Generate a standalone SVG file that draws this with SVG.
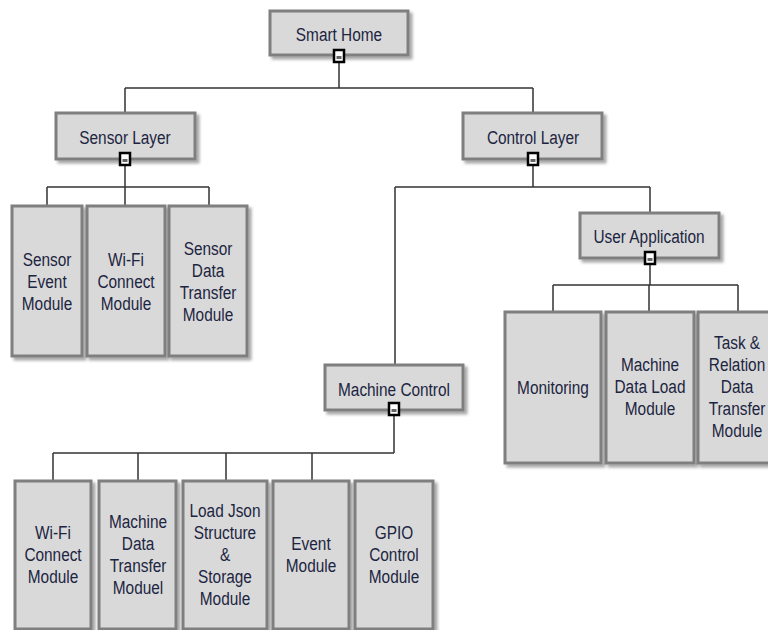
<svg xmlns="http://www.w3.org/2000/svg" width="768" height="630" viewBox="0 0 768 630">
<defs>
<filter id="sh" x="-20%" y="-20%" width="140%" height="140%">
<feGaussianBlur in="SourceAlpha" stdDeviation="1.5"/>
<feOffset dx="3" dy="3" result="o"/>
<feComponentTransfer><feFuncA type="linear" slope="0.35"/></feComponentTransfer>
<feMerge><feMergeNode/><feMergeNode in="SourceGraphic"/></feMerge>
</filter>
</defs>
<style>
.b{fill:#d9d9d9;stroke:#7f7f7f;stroke-width:3;filter:url(#sh)}
.t{font-family:"Liberation Sans",Arial,sans-serif;font-size:19px;fill:#1c2541;text-anchor:middle;transform-box:fill-box;transform-origin:center;transform:scaleX(0.81)}
.c{fill:none;stroke:#333;stroke-width:1.5}
.i{fill:#fff;stroke:#000;stroke-width:2.5}
.d{fill:#666}
</style>
<rect width="768" height="630" fill="#fff"/>
<g id="connectors">
<path class="c" d="M339 60V88M125 88H533M125 88V113M533 88V113"/>
<path class="c" d="M125 163V187M47 187H209M47 187V206M125 187V206M209 187V206"/>
<path class="c" d="M533 163V187M395 187H650M650 187V213M395 187V365"/>
<path class="c" d="M650 262V285M553 285H738M553 285V312M649 285V312M738 285V312"/>
<path class="c" d="M394 414V453M53 453H394M53 453V481M138 453V481M226 453V481M312 453V481"/>
</g>
<g id="smart-home"><rect class="b" x="270" y="11" width="138" height="44"/><text class="t" x="339" y="41">Smart Home</text><rect class="i" x="334" y="50" width="10" height="12"/><rect class="d" x="336.5" y="56" width="5" height="3"/></g>
<g id="sensor-layer"><rect class="b" x="56" y="113" width="139" height="46"/><text class="t" x="125" y="144">Sensor Layer</text><rect class="i" x="120" y="153" width="10" height="12"/><rect class="d" x="122.5" y="159" width="5" height="3"/></g>
<g id="control-layer"><rect class="b" x="463" y="113" width="139" height="46"/><text class="t" x="533" y="144">Control Layer</text><rect class="i" x="528" y="153" width="10" height="12"/><rect class="d" x="530.5" y="159" width="5" height="3"/></g>
<g id="sensor-event"><rect class="b" x="12" y="206" width="70" height="150"/><text class="t" x="47" y="266">Sensor</text><text class="t" x="47" y="288">Event</text><text class="t" x="47" y="310">Module</text></g>
<g id="sensor-wifi"><rect class="b" x="87" y="206" width="78" height="150"/><text class="t" x="126" y="266">Wi-Fi</text><text class="t" x="126" y="288">Connect</text><text class="t" x="126" y="310">Module</text></g>
<g id="sensor-data"><rect class="b" x="169" y="206" width="78" height="150"/><text class="t" x="208" y="255">Sensor</text><text class="t" x="208" y="277">Data</text><text class="t" x="208" y="299">Transfer</text><text class="t" x="208" y="321">Module</text></g>
<g id="user-application"><rect class="b" x="580" y="213" width="139" height="45"/><text class="t" x="649" y="243">User Application</text><rect class="i" x="645" y="252" width="10" height="12"/><rect class="d" x="647.5" y="258" width="5" height="3"/></g>
<g id="monitoring"><rect class="b" x="505" y="312" width="96" height="151"/><text class="t" x="553" y="394">Monitoring</text></g>
<g id="machine-data-load"><rect class="b" x="606" y="312" width="88" height="151"/><text class="t" x="650" y="371">Machine</text><text class="t" x="650" y="393">Data Load</text><text class="t" x="650" y="415">Module</text></g>
<g id="task-relation"><rect class="b" x="698" y="312" width="80" height="151"/><text class="t" x="737" y="349">Task &amp;</text><text class="t" x="737" y="371">Relation</text><text class="t" x="737" y="393">Data</text><text class="t" x="737" y="415">Transfer</text><text class="t" x="737" y="437">Module</text></g>
<g id="machine-control"><rect class="b" x="325" y="365" width="138" height="45"/><text class="t" x="394" y="396">Machine Control</text><rect class="i" x="389" y="403" width="10" height="12"/><rect class="d" x="391.5" y="409" width="5" height="3"/></g>
<g id="mc-wifi"><rect class="b" x="15" y="481" width="76" height="148"/><text class="t" x="53" y="539">Wi-Fi</text><text class="t" x="53" y="561">Connect</text><text class="t" x="53" y="583">Module</text></g>
<g id="mc-data"><rect class="b" x="99" y="481" width="77" height="148"/><text class="t" x="138" y="528">Machine</text><text class="t" x="138" y="550">Data</text><text class="t" x="138" y="572">Transfer</text><text class="t" x="138" y="594">Moduel</text></g>
<g id="mc-json"><rect class="b" x="183" y="481" width="84" height="148"/><text class="t" x="225" y="517">Load Json</text><text class="t" x="225" y="539">Structure</text><text class="t" x="225" y="561">&amp;</text><text class="t" x="225" y="583">Storage</text><text class="t" x="225" y="605">Module</text></g>
<g id="mc-event"><rect class="b" x="273" y="481" width="76" height="148"/><text class="t" x="311" y="550">Event</text><text class="t" x="311" y="572">Module</text></g>
<g id="mc-gpio"><rect class="b" x="355" y="481" width="78" height="148"/><text class="t" x="394" y="539">GPIO</text><text class="t" x="394" y="561">Control</text><text class="t" x="394" y="583">Module</text></g>
</svg>
